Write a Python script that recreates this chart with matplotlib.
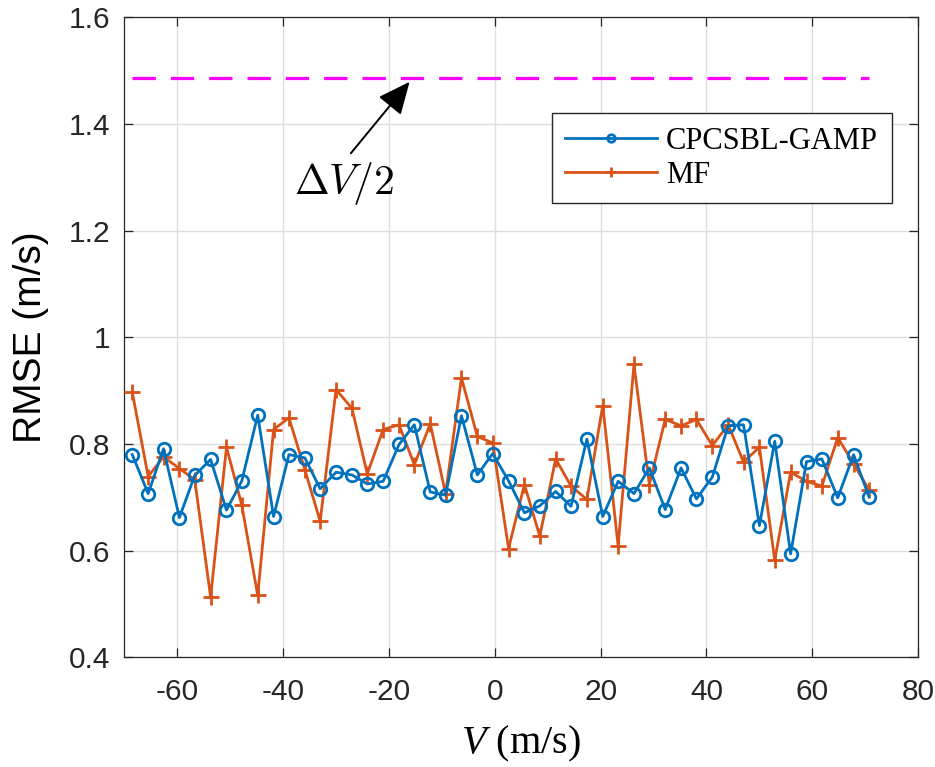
import matplotlib

matplotlib.use('Agg')
import matplotlib.pyplot as plt
from matplotlib.ticker import FuncFormatter

# velocity grid (m/s) and RMSE of each estimator
velocity = [-68.5, -65.5, -62.6, -59.6, -56.7, -53.7, -50.7, -47.8, -44.8, -41.8,
            -38.9, -35.9, -33.0, -30.0, -27.0, -24.1, -21.1, -18.1, -15.2, -12.2,
            -9.3, -6.3, -3.3, -0.4, 2.6, 5.6, 8.5, 11.5, 14.4, 17.4,
            20.4, 23.3, 26.3, 29.2, 32.2, 35.2, 38.1, 41.1, 44.1, 47.0,
            50.0, 52.9, 55.9, 58.9, 61.8, 64.8, 67.8, 70.7]

rmse_cpcsbl = [0.780, 0.707, 0.791, 0.662, 0.741, 0.771, 0.676, 0.731, 0.854, 0.664,
               0.780, 0.774, 0.716, 0.747, 0.742, 0.725, 0.730, 0.799, 0.836, 0.710,
               0.704, 0.853, 0.742, 0.782, 0.731, 0.671, 0.684, 0.711, 0.683, 0.809,
               0.664, 0.730, 0.707, 0.755, 0.677, 0.755, 0.697, 0.738, 0.834, 0.836,
               0.647, 0.805, 0.594, 0.767, 0.772, 0.699, 0.780, 0.701]

rmse_mf = [0.897, 0.739, 0.776, 0.754, 0.733, 0.513, 0.794, 0.685, 0.516, 0.827,
           0.849, 0.752, 0.655, 0.902, 0.867, 0.744, 0.827, 0.836, 0.761, 0.838,
           0.707, 0.924, 0.814, 0.802, 0.604, 0.724, 0.627, 0.772, 0.721, 0.696,
           0.872, 0.609, 0.949, 0.724, 0.846, 0.834, 0.846, 0.797, 0.836, 0.766,
           0.794, 0.582, 0.747, 0.730, 0.721, 0.812, 0.763, 0.714]

half_resolution = 1.487  # Delta V / 2

x_ticks = [-60, -40, -20, 0, 20, 40, 60, 80]
y_ticks = [0.4, 0.6, 0.8, 1.0, 1.2, 1.4, 1.6]

plt.rcParams['axes.unicode_minus'] = False
plt.rcParams['mathtext.fontset'] = 'custom'
plt.rcParams['mathtext.rm'] = 'Liberation Serif'
plt.rcParams['mathtext.it'] = 'Liberation Serif:italic'

fig = plt.figure(figsize=(9.35, 7.67), dpi=100)
ax = fig.add_axes([0.133, 0.143, 0.849, 0.8345])

ax.plot(velocity, rmse_cpcsbl, '-o', color='#0072BD', lw=2.0, ms=9,
        mfc='none', mew=2.0, label='CPCSBL-GAMP', zorder=4)
ax.plot(velocity, rmse_mf, '-+', color='#D95319', lw=2.0, ms=12,
        mew=2.0, label='MF', zorder=3)
ax.plot([velocity[0], velocity[-1]], [half_resolution, half_resolution],
        color='#FF00FF', lw=2.3, ls=(0, (7.3, 4.7)), zorder=2)

ax.annotate('', xy=(-16.1, 1.479), xytext=(-27.2, 1.345),
            arrowprops=dict(arrowstyle='-|>,head_length=1.0,head_width=0.45',
                            color='black', lw=1.4, mutation_scale=20,
                            shrinkA=0, shrinkB=0))
ax.text(-28.4, 1.289, r'$\Delta V/2$', fontsize=30, math_fontfamily='cm',
        ha='center', va='center')

ax.set_xlim(-70, 80)
ax.set_ylim(0.4, 1.6)
ax.set_xticks(x_ticks)
ax.set_yticks(y_ticks)
ax.yaxis.set_major_formatter(FuncFormatter(lambda v, p: '%g' % v))

ax.grid(True, color='#dedede', lw=1.0)
ax.set_axisbelow(True)
for s in ax.spines.values():
    s.set_color('#262626')
    s.set_linewidth(0.9)
ax.tick_params(direction='in', length=6.5, width=0.9, color='#262626',
               top=True, right=True, labelsize=21.5, labelcolor='#262626')
ax.tick_params(axis='x', pad=15)
ax.tick_params(axis='y', pad=10)
for lab in ax.get_xticklabels() + ax.get_yticklabels():
    lab.set_fontfamily('Liberation Sans')

ax.set_xlabel('$V$ (m/s)', fontsize=29, fontfamily='Liberation Serif', labelpad=13)
ax.set_ylabel('RMSE (m/s)', fontsize=28, fontfamily='Liberation Sans', labelpad=14)

leg = ax.legend(loc='upper right', bbox_to_anchor=(0.967, 0.85), borderaxespad=0,
                fancybox=False, framealpha=1, edgecolor='#262626',
                prop={'family': 'Liberation Serif', 'size': 22},
                handlelength=3.0, handletextpad=0.3, labelspacing=0.15,
                borderpad=0.45, markerscale=0.6)
leg.get_frame().set_linewidth(1.0)

fig.savefig('out.png', dpi=100)
